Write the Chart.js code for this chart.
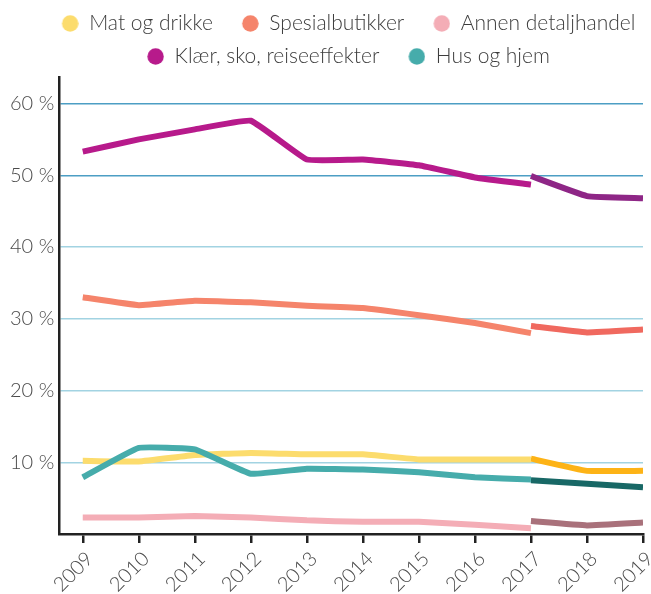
<!DOCTYPE html>
<html>
<head>
<meta charset="utf-8">
<script src="https://cdn.jsdelivr.net/npm/chart.js@4"></script>
<style>
  html, body { margin: 0; padding: 0; background: #fff; }
  #wrap { width: 651px; height: 594px; }
</style>
</head>
<body>
<div id="wrap"><canvas id="line-chart"></canvas></div>
<script>
// data
var years = [2009, 2010, 2011, 2012, 2013, 2014, 2015, 2016, 2017, 2018, 2019];
var yTicks = [10, 20, 30, 40, 50, 60];
var gammelYears = years.slice(0, 9);   // 2009-2017
var nyYears = years.slice(8);          // 2017-2019

var labels = ['Mat og drikke', 'Spesialbutikker', 'Annen detaljhandel', 'Klær, sko, reiseeffekter', 'Hus og hjem'];

var matOgDrikke     = [10.2, 10.1, 11.0, 11.3, 11.1, 11.1, 10.4, 10.4, 10.4];
var spesialbutikker = [33.0, 31.9, 32.5, 32.3, 31.8, 31.5, 30.5, 29.4, 28.0];
var annenDetalj     = [2.3, 2.3, 2.5, 2.3, 1.9, 1.7, 1.7, 1.3, 0.8];
var klaerSko        = [53.3, 55.0, 56.4, 57.6, 52.2, 52.2, 51.4, 49.7, 48.7];
var husOgHjem       = [7.9, 12.0, 11.8, 8.4, 9.1, 9.0, 8.6, 7.9, 7.6];

var matOgDrikkeNy     = [10.5, 8.8, 8.8];
var spesialbutikkerNy = [29.0, 28.1, 28.5];
var annenDetaljNy     = [1.8, 1.2, 1.6];
var klaerSkoNy        = [49.9, 47.1, 46.8];
var husOgHjemNy       = [7.5, 7.0, 6.5];

var colors   = ['#fcdc6d', '#f5846b', '#f4adb6', '#b71a8b', '#46acab'];
var colorsNy = ['#fdb316', '#f0695f', '#a9717b', '#8e2686', '#186866'];
var drawOrder = [3, 2, 4, 1, 0];

var gammel = [matOgDrikke, spesialbutikker, annenDetalj, klaerSko, husOgHjem];
var ny = [matOgDrikkeNy, spesialbutikkerNy, annenDetaljNy, klaerSkoNy, husOgHjemNy];

function pairs(xs, ys) {
  return ys.map(function(v, i) { return {x: xs[i], y: v}; });
}

// legend dot with some blank room on its left side
function dot(color) {
  var c = document.createElement('canvas');
  c.width = 34; c.height = 17;
  var g = c.getContext('2d');
  g.fillStyle = color;
  g.beginPath();
  g.arc(25.5, 8.5, 8.2, 0, Math.PI * 2);
  g.fill();
  return c;
}

var datasets = [];
labels.forEach(function(name, i) {
  datasets.push({
    label: name,
    data: pairs(gammelYears, gammel[i]),
    borderColor: colors[i],
    backgroundColor: colors[i],
    order: drawOrder[i]
  });
});
labels.forEach(function(name, i) {
  datasets.push({
    label: name + ' (ny)',
    data: pairs(nyYears, ny[i]),
    borderColor: colorsNy[i],
    backgroundColor: colorsNy[i],
    order: drawOrder[i]
  });
});

var font = 'Lato';

// legend is centred a bit right of the canvas middle
var legendShift = {
  id: 'legendShift',
  afterLayout: function(chart) {
    chart.legend.left += 16;
    chart.legend.right += 16;
  }
};

new Chart(document.getElementById('line-chart'), {
  type: 'line',
  data: { datasets: datasets },
  plugins: [legendShift],
  options: {
    responsive: true,
    maintainAspectRatio: false,
    animation: false,
    layout: { padding: { left: 5, right: 8, top: 1, bottom: 0 } },
    elements: {
      line: { borderWidth: 6, tension: 0.1, borderCapStyle: 'butt', borderJoinStyle: 'round', fill: false },
      point: { radius: 0, hoverRadius: 0 }
    },
    plugins: {
      tooltip: { enabled: false },
      legend: {
        position: 'top',
        labels: {
          usePointStyle: true,
          pointStyleWidth: 34,
          padding: 12,
          color: '#3d3d3d',
          font: { family: font, size: 21, weight: '300' },
          filter: function(item) { return item.datasetIndex < 5; },
          sort: function(a, b) { return a.datasetIndex - b.datasetIndex; },
          generateLabels: function(chart) {
            var items = Chart.defaults.plugins.legend.labels.generateLabels(chart);
            items.forEach(function(it) {
              it.pointStyle = dot(colors[it.datasetIndex] || colorsNy[it.datasetIndex - 5]);
            });
            return items;
          }
        }
      }
    },
    scales: {
      x: {
        type: 'linear',
        min: 2008.58,
        max: 2019,
        afterBuildTicks: function(scale) {
          scale.ticks = years.map(function(v) { return {value: v}; });
        },
        afterFit: function(scale) {
          scale.paddingRight = 0;
          scale.height = 60;
        },
        border: { display: true, color: '#222', width: 2.5 },
        grid: { drawOnChartArea: false, drawTicks: true, tickLength: 9, color: '#222', lineWidth: 2.5 },
        ticks: {
          autoSkip: false,
          minRotation: 45,
          maxRotation: 45,
          padding: 4,
          labelOffset: 7,
          color: '#4a4a4a',
          font: { family: font, size: 20, weight: '300' },
          callback: function(v) { return String(v); }
        }
      },
      y: {
        min: 0,
        max: 63.7,
        afterBuildTicks: function(scale) {
          scale.ticks = yTicks.map(function(v) { return {value: v}; });
        },
        border: { display: true, color: '#222', width: 2.5 },
        grid: {
          drawTicks: false,
          lineWidth: 1.5,
          color: function(ctx) {
            return ctx.tick && ctx.tick.value >= 50 ? '#4c9ec4' : '#a2d3e2';
          }
        },
        ticks: {
          padding: 5,
          color: '#4a4a4a',
          font: { family: font, size: 20, weight: '300' },
          callback: function(v) { return v + ' %'; }
        }
      }
    }
  }
});
</script>
</body>
</html>
